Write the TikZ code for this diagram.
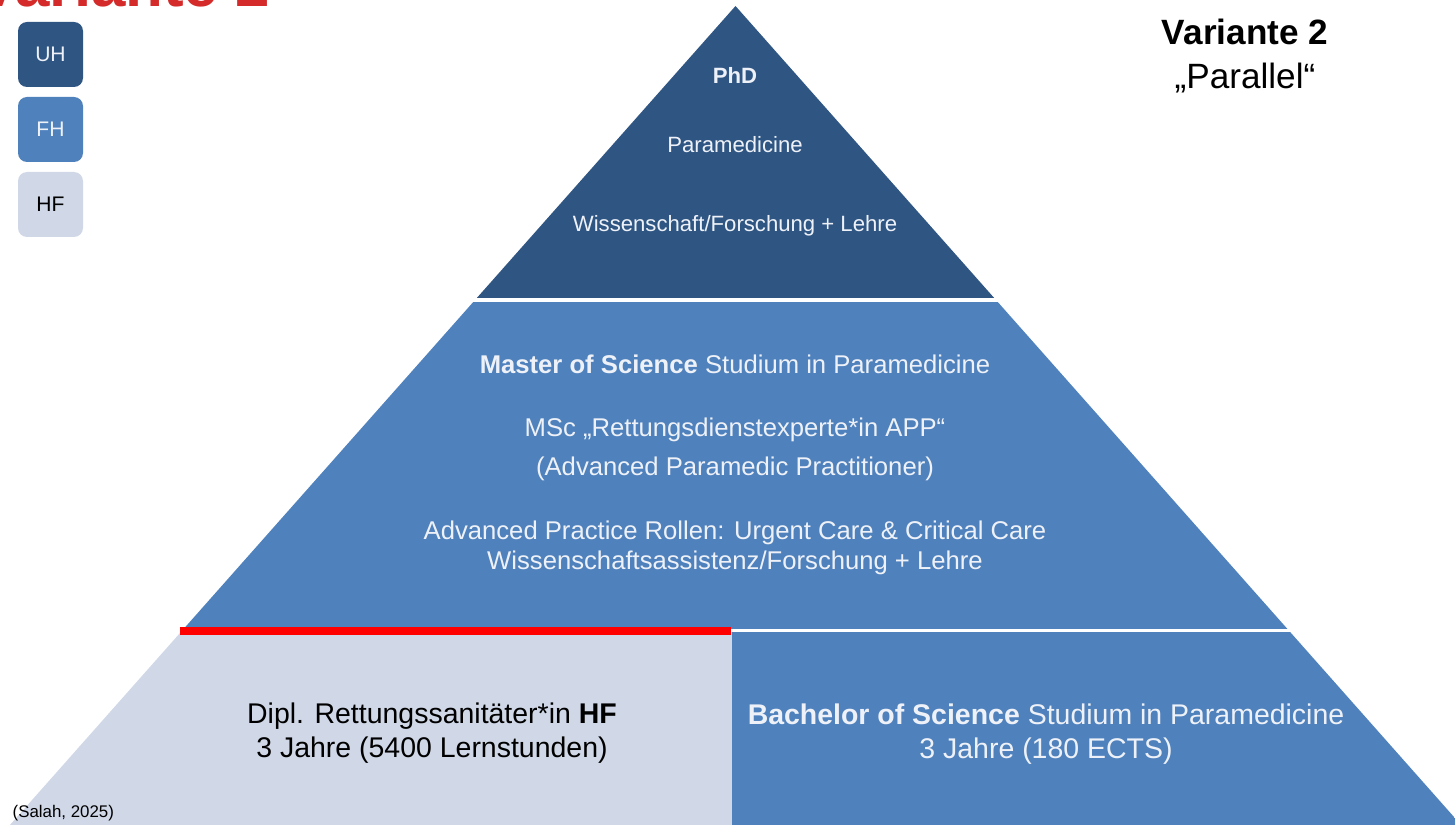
\documentclass[tikz,border=0pt]{standalone}
\usepackage{fontspec}
\setmainfont{Liberation Sans}
\usetikzlibrary{positioning}
\definecolor{uhblue}{HTML}{2F5583}
\definecolor{fhblue}{HTML}{4F81BD}
\definecolor{hfgrey}{HTML}{D0D8E8}
\definecolor{titlered}{HTML}{D42A2A}
\definecolor{labelwhite}{HTML}{EEF2F8}
\tikzset{
	legendbox/.style={rounded corners=0.09cm, minimum width=0.65cm, minimum height=0.65cm, inner sep=0pt, outer sep=0pt, font=\fontsize{6}{7}\selectfont},
	toptext/.style={text=labelwhite, font=\fontsize{6.3}{7.5}\selectfont},
	midtext/.style={text=labelwhite, align=center, font=\fontsize{7.3}{8.5}\selectfont},
	bottext/.style={align=center, font=\fontsize{8.1}{9.7}\selectfont},
}

\begin{document}
\begin{tikzpicture}
	\useasboundingbox (0,0) rectangle (14.55,8.25);
	\clip (0,0) rectangle (14.55,8.25);
	% pyramid layers
	\begin{scope}
		\clip (0.099,0) -- (7.355,8.19) -- (14.611,0) -- cycle;
		\fill[uhblue] (0,5.27) rectangle (14.55,8.25);
		\fill[fhblue] (0,1.965) rectangle (14.55,5.23);
		\fill[hfgrey] (0,0) rectangle (7.32,1.935);
		\fill[fhblue] (7.32,0) rectangle (14.55,1.935);
	\end{scope}
	\draw[red, line width=0.08cm] (1.80,1.94) -- (7.31,1.94);
	% titles
	\node[anchor=base west, inner sep=0pt, text=titlered, font=\fontsize{17.6}{20}\selectfont\bfseries] (cuttitle) at (-0.23,8.18) {Variante 2};
	\node[font=\fontsize{10}{12}\selectfont\bfseries] (variant) at (12.45,7.93) {Variante 2};
	\node[font=\fontsize{10}{12}\selectfont] (parallel) at (12.45,7.47) {„Parallel“};
	% legend
	\node[legendbox, fill=uhblue, text=labelwhite] (uh) at (0.505,7.705) {UH};
	\node[legendbox, fill=fhblue, text=labelwhite, below=0.10cm of uh] (fh) {FH};
	\node[legendbox, fill=hfgrey, text=black, below=0.10cm of fh] (hf) {HF};
	% top
	\node[toptext, font=\fontsize{6.3}{7.5}\selectfont\bfseries] (phd) at (7.35,7.50) {PhD};
	\node[toptext] (phdfield) at (7.35,6.80) {Paramedicine};
	\node[toptext] (phdrole) at (7.35,5.99) {Wissenschaft/Forschung + Lehre};
	% middle
	\node[midtext] (msc) at (7.35,4.61) {\textbf{Master of Science} Studium in Paramedicine};
	\node[midtext] (app) at (7.35,3.95) {MSc „Rettungsdienstexperte*in APP“};
	\node[midtext] (appfull) at (7.35,3.56) {(Advanced Paramedic Practitioner)};
	\node[midtext] (msrole) at (7.35,2.77) {Advanced Practice Rollen: Urgent Care \& Critical Care\\Wissenschaftsassistenz/Forschung + Lehre};
	% bottom
	\node[bottext, text=black] (hfdipl) at (4.32,0.92) {Dipl. Rettungssanitäter*in \textbf{HF}\\3 Jahre (5400 Lernstunden)};
	\node[bottext, text=labelwhite] (bsc) at (10.46,0.905) {\textbf{Bachelor of Science} Studium in Paramedicine\\3 Jahre (180 ECTS)};
	\node[anchor=west, inner sep=0pt, font=\fontsize{4.8}{6}\selectfont] (source) at (0.12,0.12) {(Salah, 2025)};
\end{tikzpicture}
\end{document}
